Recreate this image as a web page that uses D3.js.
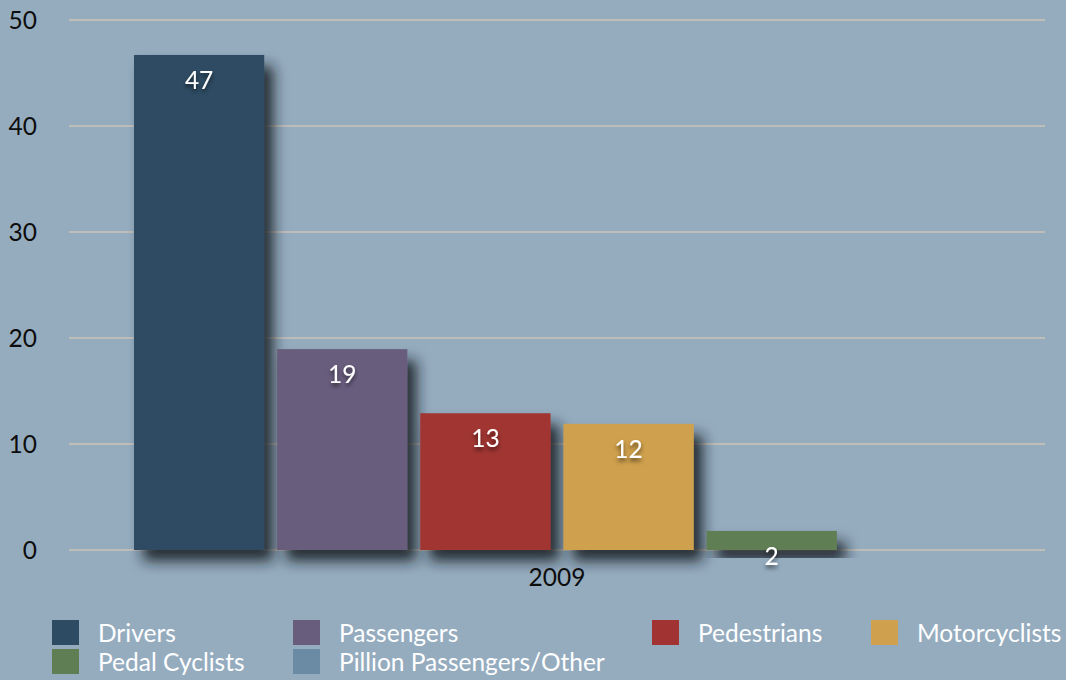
<!DOCTYPE html>
<html><head><meta charset="utf-8">
<script src="https://cdn.jsdelivr.net/npm/d3@7"></script>
<style>
html,body{margin:0;padding:0;background:#95acbf;}
svg{display:block;font-family:"Gill Sans","Lato",sans-serif;}
</style></head>
<body><svg id="chart" width="1066" height="680"></svg>
<script>
const categories = ["2009"];
const seriesNames = ["Drivers","Passengers","Pedestrians","Motorcyclists","Pedal Cyclists","Pillion Passengers/Other"];
const seriesValues = [46.7, 18.95, 12.9, 11.9, 1.8, 0];
const valueLabels = ["47","19","13","12","2",""];
const yTicks = [0,10,20,30,40,50];
const colors = ["#2d4c63","#695d7e","#a13432","#cfa04d","#607e53","#6a8ba3"];

const svg = d3.select("#chart");
const W = 1066, H = 680;
const FS = 24.5;
svg.append("rect").attr("width",W).attr("height",H).attr("fill","#95acbf");

const defs = svg.append("defs");
const f = defs.append("filter").attr("id","shadow").attr("x","-30%").attr("y","-30%").attr("width","170%").attr("height","170%");
f.append("feDropShadow").attr("dx",9).attr("dy",11).attr("stdDeviation",7).attr("flood-color","#141c22").attr("flood-opacity",0.9);
const tf = defs.append("filter").attr("id","tshadow").attr("x","-50%").attr("y","-50%").attr("width","200%").attr("height","200%");
tf.append("feDropShadow").attr("dx",0).attr("dy",3).attr("stdDeviation",2).attr("flood-color","#000").attr("flood-opacity",0.6);

const x0 = d3.scaleBand().domain(categories).range([69,1045]).paddingInner(0).paddingOuter(0.0768);
const x1 = d3.scaleBand().domain(seriesNames).range([0,x0.bandwidth()]).paddingInner(0.09).paddingOuter(0);
const y = d3.scaleLinear().domain([0,50]).range([550,20]);

// gridlines
svg.append("g").selectAll("line").data(yTicks).join("line")
  .attr("x1",69).attr("x2",1045)
  .attr("y1",d=>y(d)).attr("y2",d=>y(d))
  .attr("stroke","#bfbdb8").attr("stroke-width",2.2);

// y axis labels
svg.append("g").selectAll("text").data(yTicks).join("text")
  .attr("x",37).attr("y",d=>y(d)).attr("dy","0.36em")
  .attr("text-anchor","end").attr("fill","#0d0d0d").attr("font-size",FS)
  .text(d=>d);

// bars
const g = svg.append("g");
categories.forEach(cat=>{
  const gx = x0(cat);
  g.selectAll("rect.bar").data(seriesNames.map((s,i)=>({s,v:seriesValues[i],c:colors[i]})))
    .join("rect").attr("class","bar")
    .attr("x",d=>gx + x1(d.s)).attr("width",x1.bandwidth())
    .attr("y",d=>y(d.v)).attr("height",d=>y(0)-y(d.v))
    .attr("fill",d=>d.c).attr("filter",d=>d.v>0?"url(#shadow)":null);
  g.selectAll("text.val").data(seriesNames.map((s,i)=>({s,v:seriesValues[i],l:valueLabels[i]})))
    .join("text").attr("class","val")
    .attr("x",d=>gx + x1(d.s) + x1.bandwidth()/2)
    .attr("y",d=>y(d.v)+34)
    .attr("text-anchor","middle").attr("fill","#fff").attr("font-size",FS)
    .attr("filter","url(#tshadow)")
    .text(d=>d.l);
  svg.append("text").attr("x",x0(cat)+x0.bandwidth()/2).attr("y",586)
    .attr("text-anchor","middle").attr("fill","#0d0d0d").attr("font-size",FS).text(cat);
});

// legend
const legCols = [52,293,652,871];
const legRows = [633,662];
const leg = svg.append("g");
seriesNames.forEach((s,i)=>{
  const cx = legCols[i%4], cy = legRows[Math.floor(i/4)];
  leg.append("rect").attr("x",cx).attr("y",cy-13).attr("width",27).attr("height",25).attr("fill",colors[i]);
  leg.append("text").attr("x",cx+46).attr("y",cy).attr("dy","0.36em")
    .attr("fill","#fff").attr("font-size",FS).text(s);
});
</script></body></html>
